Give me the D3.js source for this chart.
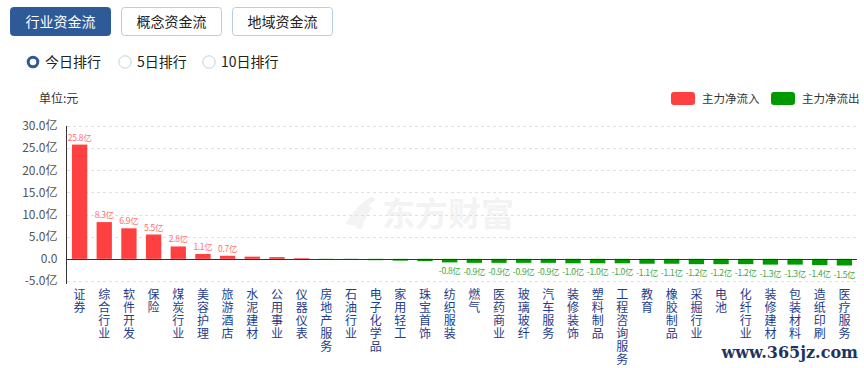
<!DOCTYPE html>
<html><head><meta charset="utf-8">
<script src="https://cdn.jsdelivr.net/npm/d3@7"></script>
<style>
body{margin:0;background:#fff;font-family:"Noto Sans CJK SC","Noto Sans",sans-serif;}
svg{display:block;}
</style></head>
<body><svg id="c" width="864" height="368"></svg>
<script>
const categories = ["证券","综合行业","软件开发","保险","煤炭行业","美容护理","旅游酒店","水泥建材","公用事业","仪器仪表","房地产服务","石油行业","电子化学品","家用轻工","珠宝首饰","纺织服装","燃气","医药商业","玻璃玻纤","汽车服务","装修装饰","塑料制品","工程咨询服务","教育","橡胶制品","采掘行业","电池","化纤行业","装修建材","包装材料","造纸印刷","医疗服务"];
const values = [25.8,8.3,6.9,5.5,2.8,1.1,0.7,0.5,0.4,0.15,-0.1,-0.2,-0.3,-0.4,-0.5,-0.8,-0.9,-0.9,-0.9,-0.9,-1.0,-1.0,-1.0,-1.1,-1.1,-1.2,-1.2,-1.2,-1.3,-1.3,-1.4,-1.5];
const showLabel = [1,1,1,1,1,1,1,0,0,0,0,0,0,0,0,1,1,1,1,1,1,1,1,1,1,1,1,1,1,1,1,1];
const yTicks = [-5,0,5,10,15,20,25,30];
const tabs = ["行业资金流","概念资金流","地域资金流"];
const radios = ["今日排行","5日排行","10日排行"];
const legendItems = ["主力净流入","主力净流出"];

const RED="#ff4040", GREEN="#009900";
const svg = d3.select("#c");
const F = '"Noto Sans CJK SC","Noto Sans",sans-serif';

// tabs
const tabX = [10,121,232];
tabs.forEach((t,i)=>{
  const g = svg.append("g").attr("transform",`translate(${tabX[i]+0.5},7.5)`);
  g.append("rect").attr("width",100).attr("height",28).attr("rx",3)
    .attr("fill", i===0?"#2e5a98":"#fff").attr("stroke", i===0?"#2e5a98":"#b6cde3");
  g.append("text").attr("x",50).attr("y",19).attr("text-anchor","middle")
    .attr("font-family",F).attr("font-size",14).attr("fill", i===0?"#fff":"#222").text(t);
});
// radios
const radX = [33,125,209];
radios.forEach((t,i)=>{
  if(i===0){
    svg.append("circle").attr("cx",radX[i]).attr("cy",62).attr("r",4.8).attr("fill","#fff").attr("stroke","#2e5a98").attr("stroke-width",3);
  } else {
    svg.append("circle").attr("cx",radX[i]).attr("cy",62).attr("r",6.2).attr("fill","#fff").attr("stroke","#bcd2e8").attr("stroke-width",1);
  }
  svg.append("text").attr("x",radX[i]+12).attr("y",67).attr("font-family",F).attr("font-size",14).attr("fill","#222").text(t);
});

svg.append("text").attr("x",39).attr("y",103).attr("font-family",F).attr("font-size",12).attr("fill","#333").text("单位:元");

// legend
const legX=[671,771];
legendItems.forEach((t,i)=>{
  svg.append("rect").attr("x",legX[i]).attr("y",92).attr("width",24).attr("height",13).attr("rx",3).attr("fill",i===0?RED:GREEN);
  svg.append("text").attr("x",legX[i]+31).attr("y",103).attr("font-family",F).attr("font-size",11.5).attr("fill","#333").text(t);
});

const x = d3.scaleBand().domain(categories).range([67,857]).paddingInner(0.38).paddingOuter(0.2);
const y = d3.scaleLinear().domain([-5,30]).range([281,126]);

// watermark
const wm = svg.append("g").attr("fill","#f3f3f3");
wm.append("path").attr("d","M372,196 C362,202 352,212 346,224 L356,226 C360,214 366,206 376,200 Z");
wm.append("path").attr("d","M368,206 C362,212 358,220 356,228 L362,229 C364,220 368,213 372,208 Z");
wm.append("text").attr("x",382).attr("y",226).attr("font-family",F).attr("font-size",33).attr("font-weight","bold").text("东方财富");

// grid
svg.append("g").selectAll("line").data(yTicks.filter(d=>d!==0)).join("line")
  .attr("x1",67).attr("x2",857).attr("y1",d=>Math.round(y(d))+0.5).attr("y2",d=>Math.round(y(d))+0.5)
  .attr("stroke","#e0e0e0").attr("stroke-dasharray","3,3");

// y axis
const ax = svg.append("g").attr("transform","translate(66.5,0)")
  .call(d3.axisLeft(y).tickValues(yTicks).tickSize(0).tickPadding(9).tickFormat(d=>d===0?"0.0":d.toFixed(1)+"亿"));
ax.select(".domain").remove();
ax.selectAll("text").attr("font-family",F).attr("font-size",12).attr("fill","#555");
svg.append("line").attr("x1",66.5).attr("x2",66.5).attr("y1",126).attr("y2",284).attr("stroke","#333");

// bars
const data = categories.map((c,i)=>({c,v:values[i],l:showLabel[i]}));
svg.append("g").selectAll("rect").data(data).join("rect")
  .attr("x",d=>x(d.c)).attr("width",x.bandwidth())
  .attr("y",d=>d.v>=0?y(d.v):y(0)).attr("height",d=>Math.abs(y(d.v)-y(0)))
  .attr("fill",d=>d.v>=0?RED:GREEN);

svg.append("line").attr("x1",66).attr("x2",857).attr("y1",Math.round(y(0))+0.5).attr("y2",Math.round(y(0))+0.5).attr("stroke","#333");

// bar labels
svg.append("g").selectAll("text").data(data.filter(d=>d.l)).join("text")
  .attr("x",d=>x(d.c)+x.bandwidth()/2)
  .attr("y",d=>d.v>=0?y(d.v)-4:y(d.v)+12)
  .attr("text-anchor","middle").attr("font-family",F).attr("font-size",8.5).attr("letter-spacing",-0.3)
  .attr("fill",d=>d.v>=0?"#ff6f6f":"#3ea83e")
  .text(d=>d.v.toFixed(1)+"亿");

// x labels (vertical)
svg.append("g").selectAll("text").data(data).join("text")
  .attr("x",d=>x(d.c)+x.bandwidth()/2).attr("y",288)
  .attr("writing-mode","vertical-rl").style("text-orientation","upright")
  .attr("letter-spacing",1)
  .attr("font-family",F).attr("font-size",12).attr("fill","#1e3d8c")
  .text(d=>d.c);

// site watermark
svg.append("text").attr("x",858).attr("y",358).attr("text-anchor","end")
  .attr("font-family",'"DejaVu Serif",serif').attr("font-size",16).attr("font-weight","bold").attr("fill","#1f3460").text("www.365jz.com");
</script></body></html>
